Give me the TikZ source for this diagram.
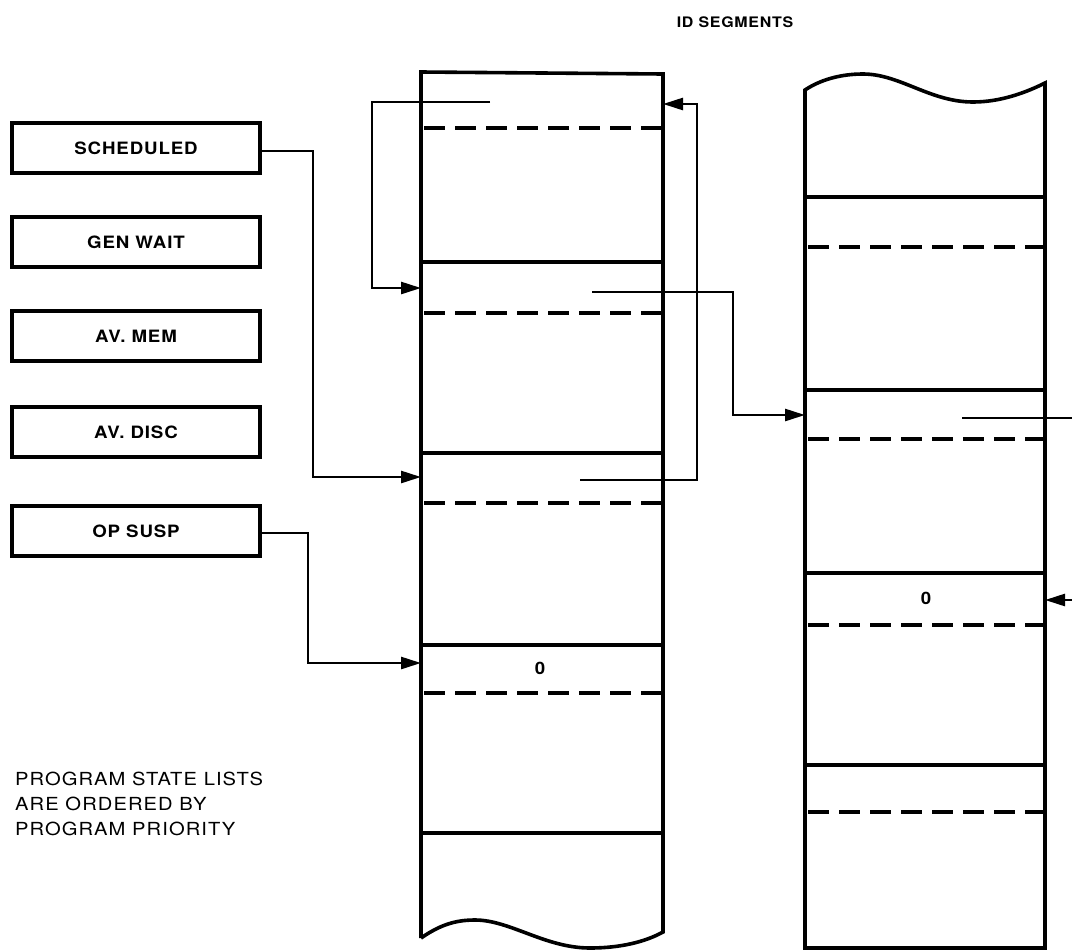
\documentclass[tikz,border=0pt]{standalone}
\usepackage{fontspec}
\newfontfamily\boxfont[FakeStretch=1.1,LetterSpace=5]{TeX Gyre Heros}
\newfontfamily\notefont[FakeStretch=1.12,LetterSpace=6]{TeX Gyre Heros}
\usetikzlibrary{arrows.meta}
\begin{document}
\begin{tikzpicture}[x=1pt,y=-1pt,
  outline/.style={line width=3.6pt,line join=miter},
  seg/.style={line width=3.3pt},
  sep/.style={line width=3.4pt,dash pattern=on 21pt off 10pt},
  conn/.style={line width=2.6pt},
  arr/.style={conn,-{Triangle[length=20pt,width=12pt]}},
  statebox/.style={draw,line width=3.4pt,minimum width=248pt,minimum height=50pt,inner sep=0pt,
    font=\boxfont\bfseries\fontsize{17}{20}\selectfont},
  lbl/.style={font=\boxfont\bfseries\fontsize{17}{20}\selectfont,inner sep=0pt}]
\useasboundingbox (0,0) rectangle (1072,951);

% title
\node[lbl,font=\boxfont\bfseries\fontsize{14.5}{17}\selectfont] (title) at (735,22) {ID SEGMENTS};

% state list boxes
\node[statebox] (sched) at (136,148) {SCHEDULED};
\node[statebox] (gen)   at (136,242) {GEN WAIT};
\node[statebox] (mem)   at (136,336) {AV. MEM};
\node[statebox] (disc)  at (136,432) {AV. DISC};
\node[statebox] (op)    at (136,531) {OP SUSP};

% column 1
\draw[outline] (421,938) -- (421,72) -- (663,74) -- (663,932)
  .. controls (645,942) and (620,948) .. (590,948)
  .. controls (545,948) and (510,920) .. (475,920)
  .. controls (455,920) and (440,925) .. (421,938);
\foreach \y in {262,453,645,833} \draw[seg] (421,\y) -- (663,\y);
\foreach \y in {128,313,503,693} \draw[sep] (424,\y) -- (663,\y);
\node[lbl] (z1) at (540,668) {0};

% column 2
\draw[outline] (805,948) -- (805,90)
  .. controls (820,80) and (840,74) .. (863,74)
  .. controls (900,74) and (930,102) .. (973,102)
  .. controls (1000,102) and (1025,93) .. (1045,83)
  -- (1045,948) -- cycle;
\foreach \y in {197,390,573,765} \draw[seg] (805,\y) -- (1045,\y);
\foreach \y in {247,439,625,812} \draw[sep] (808,\y) -- (1045,\y);
\node[lbl] (z2) at (926,598) {0};

% pointer coordinates
\coordinate (p1) at (490,102);
\coordinate (p1in) at (421,288);
\coordinate (p2) at (592,292);
\coordinate (p2in) at (805,415);
\coordinate (p3) at (580,480);
\coordinate (p3in) at (663,104);
\coordinate (schedin) at (421,477);
\coordinate (opin) at (421,663);
\coordinate (q2) at (962,418);
\coordinate (q2out) at (1072,418);
\coordinate (q3src) at (1072,600);
\coordinate (q3in) at (1045,600);

% connectors
\draw[arr] (p1) -- (372,102) |- (p1in);
\draw[arr] (p2) -| (733,415) -- (p2in);
\draw[arr] (p3) -| (697,104) -- (p3in);
\draw[arr] (sched.east |- 0,151) -| (313,477) -- (schedin);
\draw[arr] (op.east |- 0,533) -| (308,663) -- (opin);
\draw[conn] (q2) -- (q2out);
\draw[arr] (q3src) -- (q3in);

% note
\node[anchor=north west,align=left,inner sep=0pt,
  font=\notefont\fontsize{18}{25}\selectfont] (note) at (15,772)
  {PROGRAM STATE LISTS\\ARE ORDERED BY\\PROGRAM PRIORITY};
\end{tikzpicture}
\end{document}
